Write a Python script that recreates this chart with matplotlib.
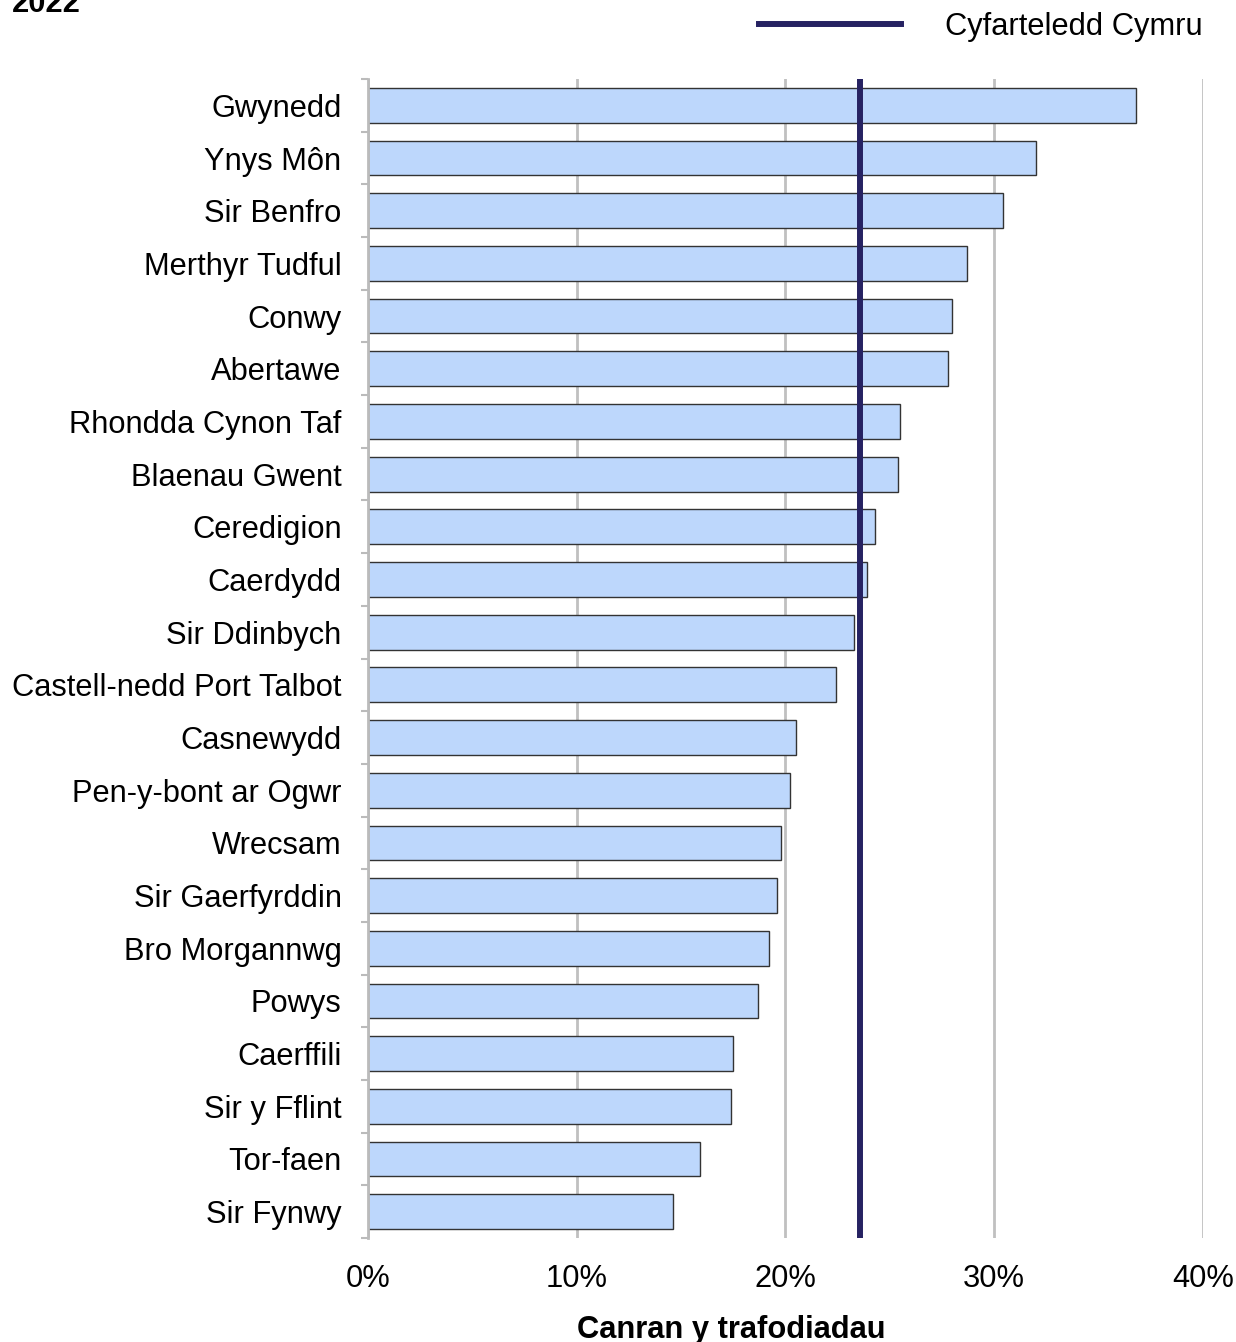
import numpy as np
import matplotlib.pyplot as plt

plt.rcParams['font.family'] = ['Liberation Sans', 'DejaVu Sans']

# Awdurdodau lleol a chanran y trafodiadau (2022)
ardaloedd = ['Gwynedd', 'Ynys Môn', 'Sir Benfro', 'Merthyr Tudful', 'Conwy',
             'Abertawe', 'Rhondda Cynon Taf', 'Blaenau Gwent', 'Ceredigion',
             'Caerdydd', 'Sir Ddinbych', 'Castell-nedd Port Talbot', 'Casnewydd',
             'Pen-y-bont ar Ogwr', 'Wrecsam', 'Sir Gaerfyrddin', 'Bro Morgannwg',
             'Powys', 'Caerffili', 'Sir y Fflint', 'Tor-faen', 'Sir Fynwy']
canran = [36.8, 32.0, 30.4, 28.7, 28.0, 27.8, 25.5, 25.4, 24.3, 23.9, 23.3,
          22.4, 20.5, 20.2, 19.8, 19.6, 19.2, 18.7, 17.5, 17.4, 15.9, 14.6]
cyfartaledd_cymru = 23.55
ticiau_x = [0, 10, 20, 30, 40]

fs = 22.2

fig = plt.figure(figsize=(12.36, 13.42), dpi=100)
ax = fig.add_axes([0.2977, 0.0775, 0.6756, 0.8636])

y = np.arange(len(ardaloedd))
ax.barh(y, canran, height=0.66, color='#BDD7FC', edgecolor='#333333',
        linewidth=1.0, zorder=2)

# Llinell cyfartaledd Cymru
ax.axvline(cyfartaledd_cymru, color='#262262', linewidth=4.3, zorder=3,
           label='Cyfarteledd Cymru')

ax.set_ylim(len(ardaloedd) - 0.5, -0.5)
ax.set_xlim(0, 40)

ax.set_yticks(y)
ax.set_yticklabels(ardaloedd, fontsize=fs)
ax.set_yticks(np.arange(len(ardaloedd) + 1) - 0.5, minor=True)
ax.tick_params(axis='y', which='major', length=0, pad=19)
ax.tick_params(axis='y', which='minor', length=5, width=1.5, color='#BBBBBB')

ax.set_xticks(ticiau_x)
ax.set_xticklabels([f'{t}%' for t in ticiau_x], fontsize=fs)
ax.tick_params(axis='x', length=0, pad=19)

ax.grid(axis='x', color='#C0C0C0', linewidth=2, zorder=0)
ax.set_axisbelow(True)

for s in ['top', 'right', 'bottom']:
    ax.spines[s].set_visible(False)
ax.spines['left'].set_color('#BBBBBB')
ax.spines['left'].set_linewidth(2)

ax.set_xlabel('Canran y trafodiadau', fontsize=fs, fontweight='bold',
              labelpad=15, x=0.435)

# Teitl wedi'i dorri ar y brig
fig.text(12 / 1236, 1 - 12 / 1342, '2022', fontsize=fs, fontweight='bold',
         va='baseline', ha='left')

leg = fig.legend(loc='upper right', bbox_to_anchor=(1203 / 1236, 1 - 12 / 1342),
                 frameon=False, fontsize=fs, handlelength=4.6, handletextpad=1.45,
                 borderpad=0, borderaxespad=0)

fig.savefig('out.png', dpi=100)
